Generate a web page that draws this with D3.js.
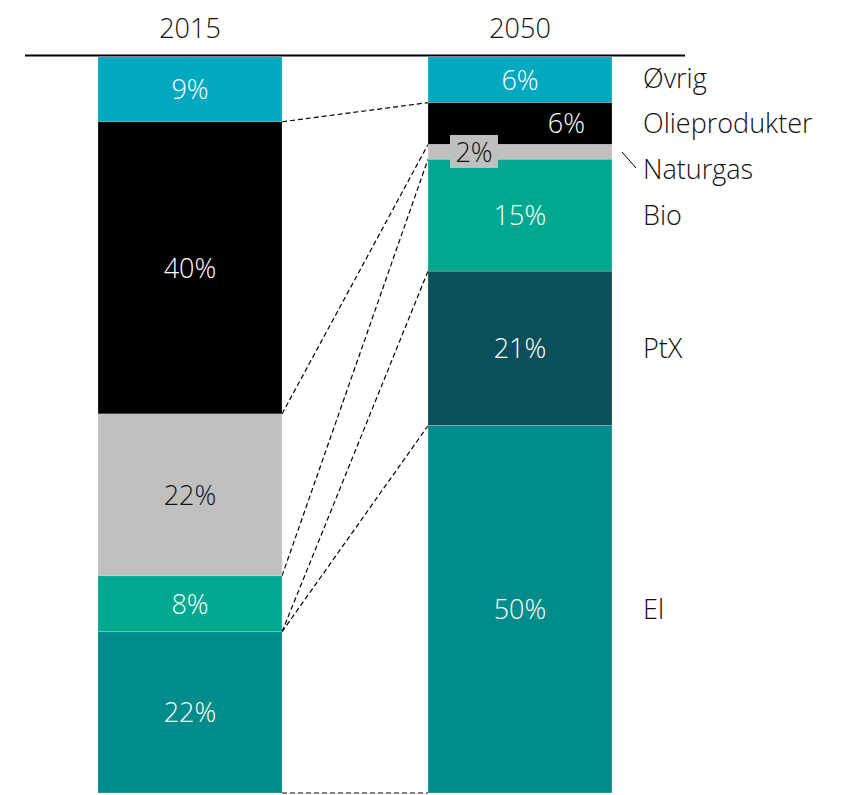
<!DOCTYPE html>
<html>
<head>
<meta charset="utf-8">
<script src="https://cdn.jsdelivr.net/npm/d3@7"></script>
<style>
  body { margin: 0; background: #fff; }
  text { font-family: "Open Sans", "Segoe UI", sans-serif; font-weight: 300; }
</style>
</head>
<body>
<svg id="chart" width="843" height="795"></svg>
<script>
// categories top -> bottom
const categories = ["Øvrig", "Olieprodukter", "Naturgas", "Bio", "PtX", "El"];
const years = ["2015", "2050"];
// shares in percent
const values2015 = [8.8, 39.7, 22.0, 7.6, 0, 21.9];
const values2050 = [6.2, 5.7, 2.0, 15.2, 21.0, 49.9];
const colors = ["#00A8C0", "#000000", "#C0C0C0", "#00A88F", "#0A505A", "#008C8A"];
const textColors = ["#fff", "#fff", "#111", "#fff", "#fff", "#fff"];

const svg = d3.select("#chart");
const barTop = 57, barBottom = 793;
const fs = 27;

const x = d3.scaleBand().domain(years).range([98, 612]).paddingInner(146 / 330).paddingOuter(0);
const y = d3.scaleLinear().domain([100, 0]).range([barTop, barBottom]);

// stack from top to bottom
function stackIt(vals) {
  const total = d3.sum(vals);
  let acc = 0;
  return vals.map((v, i) => {
    const s = { cat: categories[i], i: i, v: v, y0: acc / total * 100, y1: (acc + v) / total * 100 };
    acc += v;
    return s;
  });
}
const data = { "2015": stackIt(values2015), "2050": stackIt(values2050) };

// connectors between segment boundaries (dashed)
const conn = [];
for (let i = 1; i <= categories.length; i++) {
  conn.push({ a: data["2015"][i - 1].y1, b: data["2050"][i - 1].y1 });
}
svg.append("g").selectAll("line")
  .data(conn)
  .enter().append("line")
    .attr("x1", x("2015") + x.bandwidth())
    .attr("x2", x("2050"))
    .attr("y1", d => y(100 - d.a))
    .attr("y2", d => y(100 - d.b))
    .attr("stroke", "#000")
    .attr("stroke-width", 1.2)
    .attr("stroke-dasharray", "5,3");

// bars
years.forEach(yr => {
  svg.append("g").selectAll("rect")
    .data(data[yr].filter(d => d.v > 0))
    .enter().append("rect")
      .attr("x", x(yr))
      .attr("width", x.bandwidth())
      .attr("y", d => y(100 - d.y0))
      .attr("height", d => y(100 - d.y1) - y(100 - d.y0))
      .attr("fill", d => colors[d.i])
      .attr("stroke", "#fff")
      .attr("stroke-opacity", 0.35)
      .attr("stroke-width", 0.6);
});

// value labels
years.forEach(yr => {
  data[yr].filter(d => d.v > 0).forEach(d => {
    const cy = y(100 - (d.y0 + d.y1) / 2);
    const label = Math.round(d.v) + "%";
    let cx = x(yr) + x.bandwidth() / 2, anchor = "middle";
    if (yr === "2050" && d.cat === "Olieprodukter") { cx = x(yr) + x.bandwidth() - 27; anchor = "end"; }
    if (yr === "2050" && d.cat === "Naturgas") {
      cx = x(yr) + 46;
      svg.append("rect")
        .attr("x", cx - 24).attr("y", cy - 17)
        .attr("width", 48).attr("height", 33)
        .attr("fill", colors[d.i]);
    }
    svg.append("text")
      .attr("x", cx).attr("y", cy)
      .attr("dy", "0.36em")
      .attr("text-anchor", anchor)
      .attr("font-size", fs)
      .attr("fill", textColors[d.i])
      .text(label);
  });
});

// year headers
svg.append("g").selectAll("text")
  .data(years)
  .enter().append("text")
    .attr("x", d => x(d) + x.bandwidth() / 2)
    .attr("y", 28)
    .attr("dy", "0.36em")
    .attr("text-anchor", "middle")
    .attr("font-size", fs)
    .attr("fill", "#111")
    .text(d => d);

svg.append("line")
  .attr("x1", 25).attr("x2", 685)
  .attr("y1", 55.5).attr("y2", 55.5)
  .attr("stroke", "#000").attr("stroke-width", 2);

// legend at right of 2050 bar
const legX = x("2050") + x.bandwidth() + 31;
const legY = { "Øvrig": 78, "Olieprodukter": 123, "Naturgas": 169, "Bio": 215 };
data["2050"].forEach(d => {
  const ly = legY[d.cat] !== undefined ? legY[d.cat] : y(100 - (d.y0 + d.y1) / 2);
  svg.append("text")
    .attr("x", legX).attr("y", ly)
    .attr("dy", "0.36em")
    .attr("font-size", fs)
    .attr("fill", "#111")
    .text(d.cat);
});
// leader line for Naturgas
svg.append("line")
  .attr("x1", x("2050") + x.bandwidth() + 10).attr("y1", 152)
  .attr("x2", legX - 7).attr("y2", 168)
  .attr("stroke", "#000").attr("stroke-width", 1);
</script>
</body>
</html>
